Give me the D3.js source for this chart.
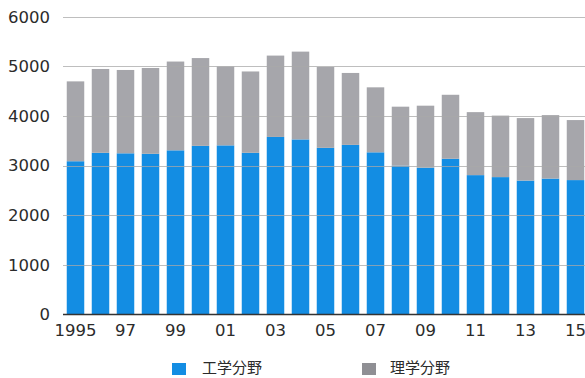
<!DOCTYPE html>
<html>
<head>
<meta charset="utf-8">
<script src="https://cdn.jsdelivr.net/npm/d3@7"></script>
<style>
  html, body { margin: 0; padding: 0; background: #fff; }
  svg { display: block; }
  text { font-family: "DejaVu Sans", "Liberation Sans", sans-serif; fill: #2b2b2b; }
  .legend text { font-family: "Noto Sans CJK JP", sans-serif; }
</style>
</head>
<body>
<svg id="chart" width="585" height="378"></svg>
<script>
// Years on the x axis (labels shown every other year)
const years = [1995, 1996, 1997, 1998, 1999, 2000, 2001, 2002, 2003, 2004, 2005,
               2006, 2007, 2008, 2009, 2010, 2011, 2012, 2013, 2014, 2015];
const yearLabels = ["1995", "97", "99", "01", "03", "05", "07", "09", "11", "13", "15"];
// 工学分野 (engineering)
const engineering = [3090, 3260, 3250, 3240, 3310, 3400, 3410, 3260, 3580, 3530, 3360,
                     3420, 3270, 3000, 2960, 3140, 2810, 2770, 2700, 2740, 2710];
// 理学分野 (science)
const science = [1610, 1690, 1680, 1730, 1790, 1770, 1590, 1640, 1640, 1770, 1630,
                 1450, 1310, 1190, 1250, 1290, 1270, 1240, 1260, 1280, 1210];
const seriesNames = ["工学分野", "理学分野"];
const yTicks = [0, 1000, 2000, 3000, 4000, 5000, 6000];

const colors = ["#138de3", "#a6a6ab"];

const svg = d3.select("#chart");

const x = d3.scaleBand()
  .domain(years)
  .range([63, 588])
  .paddingInner(0.3)
  .paddingOuter(0.15);

const y = d3.scaleLinear()
  .domain([0, 6000])
  .range([314.5, 16.9]);

const rows = years.map((yr, i) => ({ year: yr, eng: engineering[i], sci: science[i] }));
const stack = d3.stack().keys(["eng", "sci"])(rows);

// Stacked bars
svg.append("g")
  .selectAll("g")
  .data(stack)
  .join("g")
  .attr("fill", (d, i) => colors[i])
  .selectAll("rect")
  .data(d => d)
  .join("rect")
  .attr("x", d => x(d.data.year))
  .attr("width", x.bandwidth())
  .attr("y", d => y(d[1]))
  .attr("height", d => y(d[0]) - y(d[1]));

// Horizontal gridlines drawn over the bars
svg.append("g")
  .selectAll("line")
  .data(yTicks.filter(t => t > 0))
  .join("line")
  .attr("x1", 63)
  .attr("x2", 585)
  .attr("y1", d => Math.round(y(d)) + 0.5)
  .attr("y2", d => Math.round(y(d)) + 0.5)
  .attr("stroke", "#a8a8a8")
  .attr("stroke-opacity", 0.75)
  .attr("stroke-width", 1);

// Baseline
svg.append("line")
  .attr("x1", 63)
  .attr("x2", 585)
  .attr("y1", y(0))
  .attr("y2", y(0))
  .attr("stroke", "#333")
  .attr("stroke-width", 1.5);

// Y axis labels
const yAxis = d3.axisLeft(y).tickValues(yTicks).tickFormat(d3.format("d")).tickSize(0).tickPadding(0);
const gy = svg.append("g").attr("transform", "translate(50,0)").call(yAxis);
gy.select(".domain").remove();
gy.selectAll("text")
  .attr("font-size", 16.5)
  .attr("fill", "#2b2b2b")
  .attr("font-family", "'DejaVu Sans', sans-serif");

// X axis labels, every other year
const labelYears = years.filter((d, i) => i % 2 === 0);
const xAxis = d3.axisBottom(x)
  .tickValues(labelYears)
  .tickFormat(d => yearLabels[labelYears.indexOf(d)])
  .tickSize(0)
  .tickPadding(0);
const gx = svg.append("g").attr("transform", "translate(0,324)").call(xAxis);
gx.select(".domain").remove();
gx.selectAll("text")
  .attr("font-size", 16.5)
  .attr("fill", "#2b2b2b")
  .attr("font-family", "'DejaVu Sans', sans-serif");

// Legend
const legendPos = [{ sx: 172, tx: 202 }, { sx: 362, tx: 390 }];
const legend = svg.append("g").attr("class", "legend");
seriesNames.forEach((name, i) => {
  legend.append("rect")
    .attr("x", legendPos[i].sx)
    .attr("y", 363)
    .attr("width", 14)
    .attr("height", 12)
    .attr("fill", i === 0 ? colors[0] : "#8f8f94");
  legend.append("text")
    .attr("x", legendPos[i].tx)
    .attr("y", 368)
    .attr("dy", "0.35em")
    .attr("font-size", 15)
    .text(name);
});
</script>
</body>
</html>
